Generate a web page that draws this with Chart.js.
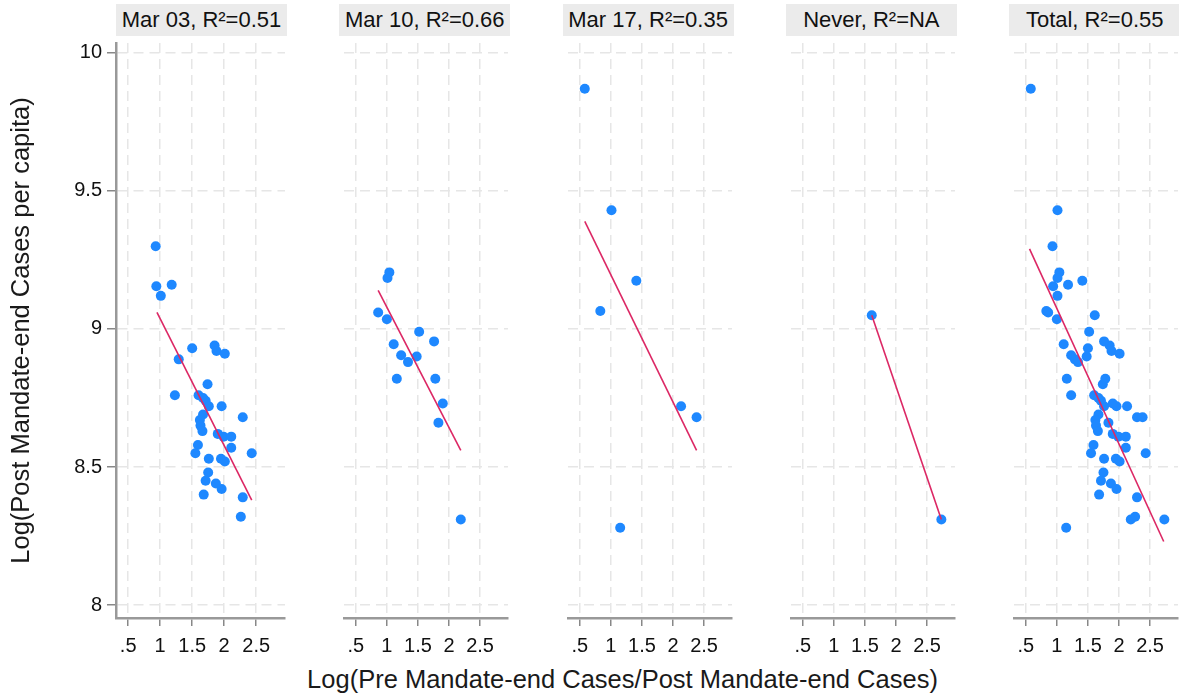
<!DOCTYPE html>
<html>
<head>
<meta charset="utf-8">
<script src="https://cdn.jsdelivr.net/npm/chart.js@4"></script>
<style>
  body { margin: 0; background: #fff; font-family: "Liberation Sans", Arial, sans-serif; }
  #wrap { position: relative; width: 1179px; height: 696px; }
  canvas { position: absolute; top: 38px; }
  .head { position: absolute; top: 4px; height: 32px; line-height: 32px; width: 171px;
          background: #ebebeb; text-align: center; font-size: 22px; color: #111; white-space: nowrap; }
  #xtitle { position: absolute; top: 664px; left: 0; width: 1245px; line-height: 30px; text-align: center;
            font-size: 25.5px; color: #1a1a1a; }
</style>
</head>
<body>
<div id="wrap">
  <div id="xtitle">Log(Pre Mandate-end Cases/Post Mandate-end Cases)</div>
</div>
<script>
const xTicks = [0.5, 1, 1.5, 2, 2.5];
const yTicks = [8, 8.5, 9, 9.5, 10];
const titulos = ['Mar 03, R²=0.51', 'Mar 10, R²=0.66', 'Mar 17, R²=0.35', 'Never, R²=NA', 'Total, R²=0.55'];

// pontos por grupo [x, y]
const mar03 = [[0.93,9.30],[0.94,9.155],[1.18,9.16],[1.01,9.12],[1.50,8.93],[1.85,8.94],[1.88,8.92],[2.01,8.91],
  [1.29,8.89],[1.74,8.80],[1.23,8.76],[1.60,8.76],[1.67,8.75],[1.71,8.74],[1.76,8.72],[1.96,8.72],[2.29,8.68],
  [1.67,8.69],[1.62,8.67],[1.63,8.65],[1.66,8.63],[1.90,8.62],[1.99,8.61],[2.11,8.61],[2.11,8.57],[1.59,8.58],
  [1.55,8.55],[2.43,8.55],[1.76,8.53],[1.95,8.53],[2.01,8.52],[1.75,8.48],[1.71,8.45],[1.87,8.44],[1.96,8.42],
  [1.68,8.40],[2.29,8.39],[2.26,8.32]];
const mar10 = [[1.04,9.205],[1.01,9.185],[0.86,9.06],[1.00,9.035],[1.52,8.99],[1.76,8.955],[1.11,8.945],[1.23,8.905],
  [1.48,8.90],[1.34,8.88],[1.16,8.82],[1.78,8.82],[1.90,8.73],[1.83,8.66],[2.19,8.31]];
const mar17 = [[0.58,9.87],[1.01,9.43],[1.41,9.175],[0.83,9.065],[2.13,8.72],[2.38,8.68],[1.15,8.28]];
const never = [[1.61,9.05],[2.73,8.31]];
const total = mar03.concat(mar10, mar17, never);

// retas de ajuste
const fit03 = [[0.95,9.06],[2.43,8.38]];
const fit10 = [[0.86,9.14],[2.19,8.56]];
const fit17 = [[0.58,9.39],[2.38,8.56]];
const fitNever = [[1.61,9.05],[2.73,8.31]];
const fitTotal = [[0.56,9.29],[2.72,8.23]];

const grupos = [[mar03, fit03], [mar10, fit10], [mar17, fit17], [never, fitNever], [total, fitTotal]];

const wrap = document.getElementById('wrap');
const toXY = arr => arr.map(p => ({x: p[0], y: p[1]}));

grupos.forEach((g, i) => {
  const plotLeft = 116 + i * 223.3;
  const head = document.createElement('div');
  head.className = 'head';
  head.style.left = plotLeft + 'px';
  head.textContent = titulos[i];
  wrap.appendChild(head);

  const cv = document.createElement('canvas');
  const primeiro = i === 0;
  cv.width = primeiro ? 290 : 174;
  cv.height = 620;
  cv.style.left = (primeiro ? 0 : plotLeft) + 'px';
  wrap.appendChild(cv);

  new Chart(cv, {
    type: 'scatter',
    data: {
      datasets: [{
        data: toXY(g[0]),
        backgroundColor: '#1e88ff',
        borderColor: '#1e88ff',
        pointRadius: 5,
        pointBorderWidth: 0,
        clip: false,
        order: 2
      }, {
        data: toXY(g[1]),
        showLine: true,
        borderColor: '#dc2865',
        borderWidth: 1.6,
        pointRadius: 0,
        clip: false,
        order: 1
      }]
    },
    options: {
      responsive: false,
      animation: false,
      layout: { padding: { right: 3, left: 0, top: 0, bottom: 0 } },
      plugins: { legend: { display: false }, tooltip: { enabled: false } },
      scales: {
        x: {
          type: 'linear',
          min: 0.31, max: 2.95,
          afterBuildTicks: s => { s.ticks = xTicks.map(v => ({value: v})); },
          afterFit: s => { s.height = 40; s.paddingLeft = 0; s.paddingRight = 0; },
          ticks: {
            font: { size: 20, family: 'Liberation Sans' },
            color: '#111',
            padding: 8,
            maxRotation: 0,
            autoSkip: false,
            callback: v => v === 0.5 ? '.5' : String(v)
          },
          grid: {
            color: '#e6e6e6', lineWidth: 1.5,
            tickColor: '#888', tickLength: 8, tickWidth: 1.5
          },
          border: { display: true, color: '#999', width: 2.5, dash: [10, 6] }
        },
        y: {
          type: 'linear',
          min: 7.953, max: 10.036,
          afterBuildTicks: s => { s.ticks = yTicks.map(v => ({value: v})); },
          afterFit: s => { s.width = primeiro ? 116 : 0; s.paddingTop = 0; s.paddingBottom = 0; },
          display: true,
          title: {
            display: primeiro,
            text: 'Log(Post Mandate-end Cases per capita)',
            font: { size: 25.5, family: 'Liberation Sans' },
            color: '#1a1a1a',
            padding: { top: 7, bottom: 0 }
          },
          ticks: {
            display: primeiro,
            font: { size: 20, family: 'Liberation Sans' },
            color: '#111',
            padding: 5,
            callback: v => String(v)
          },
          grid: {
            color: '#e6e6e6', lineWidth: 1.5,
            drawTicks: primeiro,
            tickColor: '#888', tickLength: 9, tickWidth: 1.5
          },
          border: { display: primeiro, color: '#999', width: 2.5, dash: [10, 6] }
        }
      }
    }
  });
});
</script>
</body>
</html>
